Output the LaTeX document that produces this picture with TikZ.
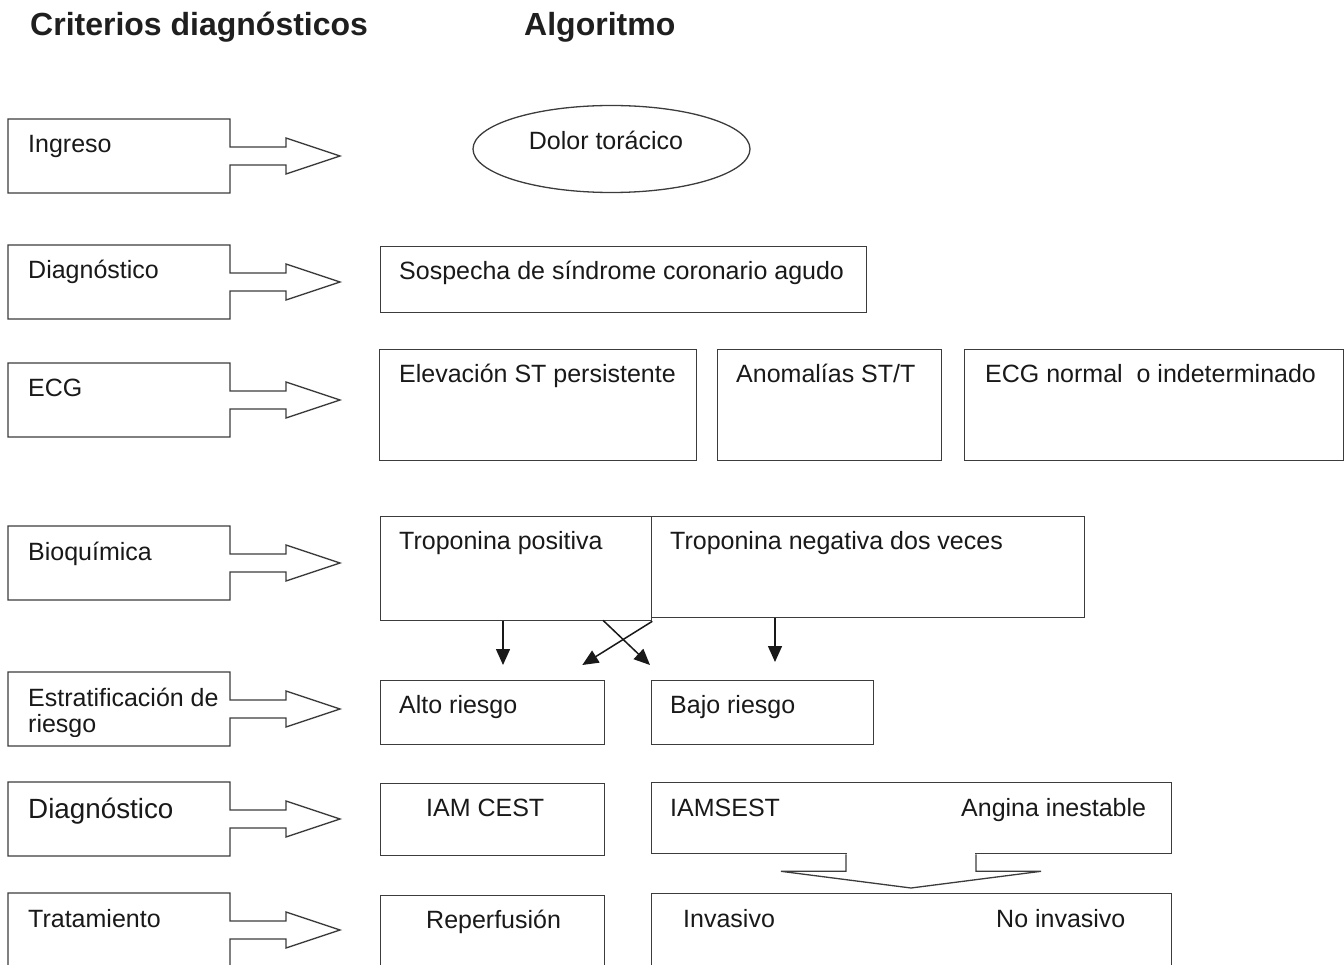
\documentclass[tikz,border=0pt]{standalone}
\usepackage{fontspec}
\setmainfont{Liberation Sans}
\usetikzlibrary{arrows.meta,calc,shapes.geometric}
\definecolor{lc}{HTML}{3C3C3C}
\newcommand\txtfont{\fontsize{25}{29}\selectfont}
\newcommand\bigtxtfont{\fontsize{27.8}{32}\selectfont}
\newcommand\ttlfont{\fontsize{32}{36}\selectfont\bfseries}
\begin{document}
\begin{tikzpicture}[x=1pt,y=-1pt,
  outl/.style={draw=lc, line width=1.3pt, line join=miter},
  box/.style={outl, rectangle, inner sep=0pt, anchor=north west},
  txt/.style={anchor=base west, inner sep=0pt, font=\txtfont, text=black!90},
  bigtxt/.style={txt, font=\bigtxtfont},
  ttl/.style={anchor=base west, inner sep=0pt, font=\ttlfont, text=black!88},
  arr/.style={draw=black!90, line width=1.5pt, -{Triangle[length=16pt,width=14pt]}},
  callout/.pic={\draw[outl, fill=white] (0,0) -- (222,0) -- (222,28) -- (278,28) -- (278,19) -- (332,37) -- (278,55) -- (278,46) -- (222,46) -- (222,74) -- (0,74) -- cycle;}
]
\useasboundingbox (0,0) rectangle (1344,965);
\clip (0,0) rectangle (1344,965);

% titles
\node[ttl] (t1) at (30,36) {Criterios diagnósticos};
\node[ttl] (t2) at (524,36) {Algoritmo};

% left callouts
\pic (c1) at (8,119) {callout};
\pic (c2) at (8,245) {callout};
\pic (c3) at (8,363) {callout};
\pic (c4) at (8,526) {callout};
\pic (c5) at (8,672) {callout};
\pic (c6) at (8,782) {callout};
\pic (c7) at (8,893) {callout};

\node[txt] (l1) at (28,153) {Ingreso};
\node[txt] (l2) at (28,279) {Diagnóstico};
\node[txt] (l3) at (28,397) {ECG};
\node[txt] (l4) at (28,560) {Bioquímica};
\begin{scope}
  \clip (8,672) rectangle (230,736);
  \node[txt] (l5a) at (28,706) {Estratificación de};
  \node[txt] (l5b) at (28,732) {riesgo};
\end{scope}
\node[bigtxt] (l6) at (28,818) {Diagnóstico};
\node[txt] (l7) at (28,927) {Tratamiento};

% algorithm
\node[outl, ellipse, minimum width=277pt, minimum height=87pt, inner sep=0pt] (dolor) at (611.5,149) {};
\node[txt, anchor=base] (dolort) at (606,150) {Dolor torácico};

\node[box, minimum width=486pt, minimum height=66pt] (sosp) at (380,246) {};
\node[txt] at (399,280) {Sospecha de síndrome coronario agudo};

\node[box, minimum width=317pt, minimum height=111pt] (elev) at (379,349) {};
\node[txt] at (399,383) {Elevación ST persistente};
\node[box, minimum width=224pt, minimum height=111pt] (anom) at (717,349) {};
\node[txt] at (736,383) {Anomalías ST/T};
\node[box, minimum width=379pt, minimum height=111pt] (norm) at (964,349) {};
\node[txt] at (985,383) {ECG normal\ \ o indeterminado};

\node[box, minimum width=271pt, minimum height=104pt] (tpos) at (380,516) {};
\node[txt] at (399,549) {Troponina positiva};
\node[box, minimum width=433pt, minimum height=101pt] (tneg) at (651,516) {};
\node[txt] at (670,549) {Troponina negativa dos veces};

\node[box, minimum width=224pt, minimum height=64pt] (alto) at (380,680) {};
\node[txt] at (399,713) {Alto riesgo};
\node[box, minimum width=222pt, minimum height=64pt] (bajo) at (651,680) {};
\node[txt] at (670,713) {Bajo riesgo};

\draw[arr] ($(tpos.south west)+(123,0)$) -- ($(alto.north west)+(123,-15)$);
\draw[arr] (tpos.south east) -- ($(alto.north east)+(-23,-15)$);
\draw[arr] ($(tpos.south west)+(223,-1)$) -- ($(bajo.north west)+(-1,-15)$);
\draw[arr] ($(tneg.south west)+(124,0)$) -- ($(bajo.north west)+(124,-18)$);

\node[box, minimum width=224pt, minimum height=72pt] (cest) at (380,783) {};
\node[txt] at (426,816) {IAM CEST};
\node[box, minimum width=520pt, minimum height=71pt] (sest) at (651,782) {};
\node[txt] at (670,816) {IAMSEST};
\node[txt] at (961,816) {Angina inestable};

\node[box, minimum width=224pt, minimum height=120pt] (rep) at (380,895) {};
\node[txt] at (426,928) {Reperfusión};
\node[box, minimum width=520pt, minimum height=120pt] (inv) at (651,893) {};
\node[txt] at (683,927) {Invasivo};
\node[txt] at (996,927) {No invasivo};

% block arrow from sest to inv
\coordinate (ba) at ($(sest.south west)+(195,0)$);
\coordinate (bb) at ($(sest.south west)+(325,0)$);
\fill[white] ($(ba)+(0.8,-2)$) rectangle ($(bb)+(-0.8,2)$);
\draw[outl] (ba) -- ++(0,17) -- ++(-65,0) -- ($(inv.north west)+(260,-5)$) -- ($(bb)+(65,17)$) -- ++(-65,0) -- (bb);
\end{tikzpicture}
\end{document}
